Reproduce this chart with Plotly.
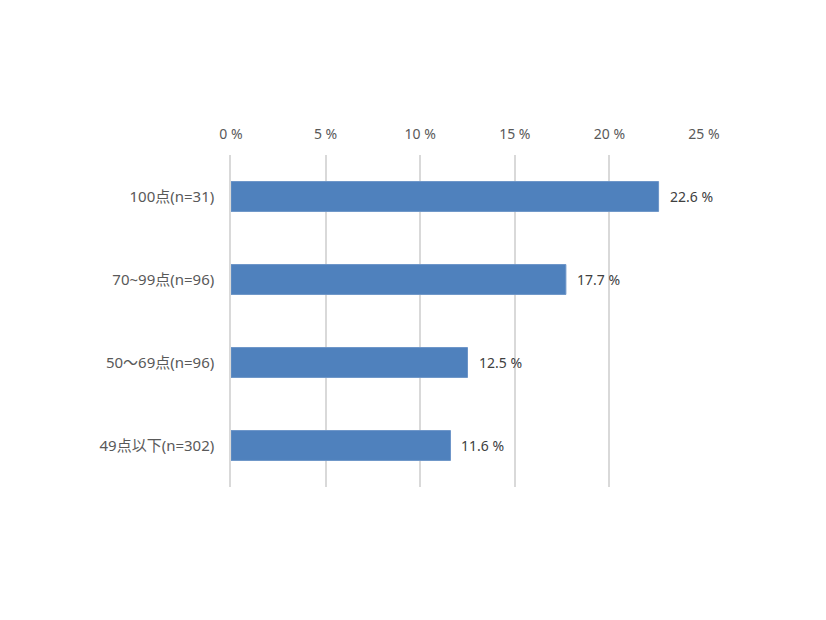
import plotly.graph_objects as go

categories = ["100点(n=31)", "70~99点(n=96)", "50～69点(n=96)", "49点以下(n=302)"]
values = [22.6, 17.7, 12.5, 11.6]
tick_vals = [0, 5, 10, 15, 20, 25]
tick_text = ["0 %", "5 %", "10 %", "15 %", "20 %", "25 %"]

FONT = "Noto Sans, Noto Sans CJK JP, sans-serif"

fig = go.Figure()
fig.add_trace(go.Bar(
    y=categories, x=values, orientation="h",
    marker=dict(color="#4f81bd", line=dict(color="#6d95c8", width=1)),
    width=0.36,
    hoverinfo="skip",
))

for c, v in zip(categories, values):
    fig.add_annotation(x=v, y=c, xref="x", yref="y", text=f"{v:.1f} %",
                       showarrow=False, xanchor="left", xshift=9,
                       font=dict(family=FONT, size=14, color="#404040"))

fig.update_layout(
    width=826, height=620,
    margin=dict(l=223, r=130, t=147, b=141),
    paper_bgcolor="white", plot_bgcolor="white",
    showlegend=False,
    font=dict(family=FONT, size=14, color="#595959"),
    xaxis=dict(range=[0, 25], side="top", tickvals=tick_vals, ticktext=tick_text,
               showgrid=True, gridcolor="#d9d9d9", gridwidth=1.5,
               zeroline=False, showline=False, ticks="", ticklabelstandoff=12,
               tickfont=dict(family=FONT, size=14, color="#595959"), fixedrange=True),
    yaxis=dict(categoryorder="array", categoryarray=categories, autorange="reversed",
               showgrid=False, zeroline=False, showline=True, linecolor="#d9d9d9",
               linewidth=1.5, ticks="", ticklabelstandoff=12,
               tickfont=dict(family=FONT, size=15, color="#595959"), fixedrange=True),
)

fig.write_html("out.html")
